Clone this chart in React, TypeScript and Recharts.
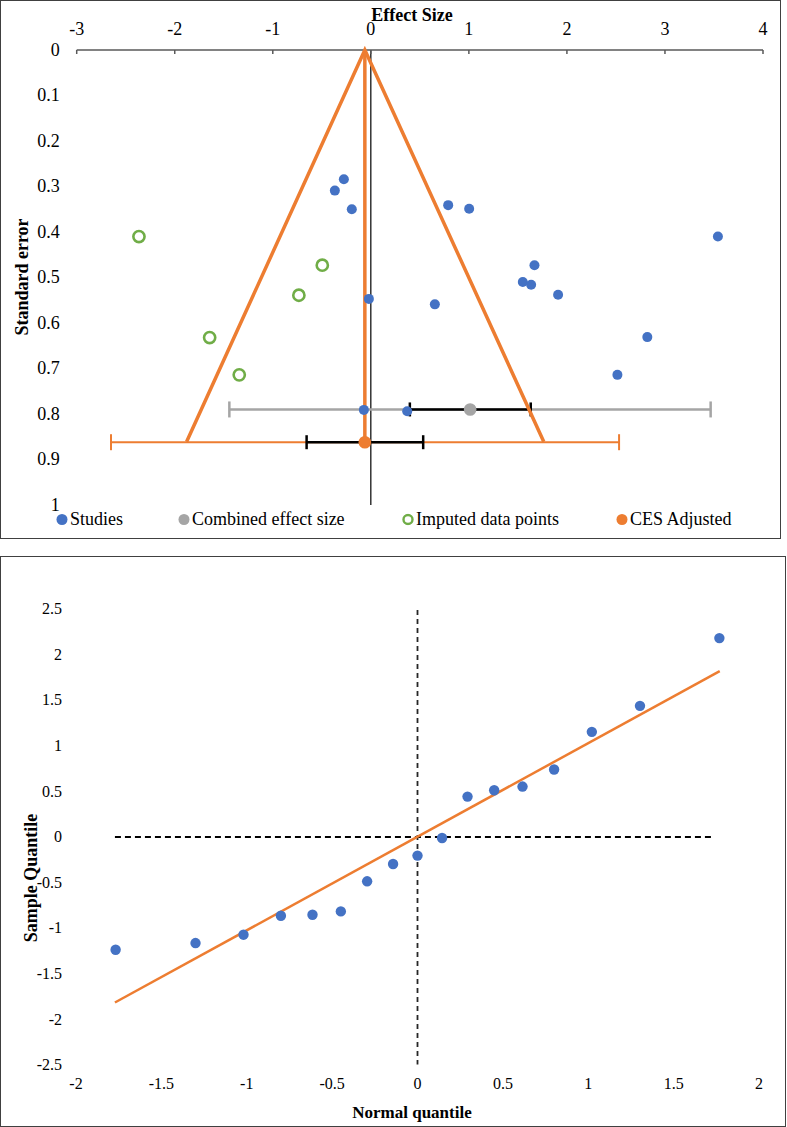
import React from "react";
import { ComposedChart, ErrorBar, ReferenceLine, Scatter, XAxis, YAxis } from "recharts";

const serif = "Liberation Serif, Times New Roman, serif";

// funnel plot
const effectTicks = [-3, -2, -1, 0, 1, 2, 3, 4];
const seTicks = [0, 0.1, 0.2, 0.3, 0.4, 0.5, 0.6, 0.7, 0.8, 0.9, 1];

const studyEffect = [-0.275, -0.367, -0.194, 0.789, 1.003, 3.54, 1.669, 1.55, 1.635, 1.91, 0.653, 2.82, 2.515, 0.371, -0.02, -0.071];
const studySE = [0.284, 0.309, 0.35, 0.341, 0.349, 0.41, 0.473, 0.51, 0.516, 0.538, 0.559, 0.631, 0.714, 0.794, 0.547, 0.791];

const imputedEffect = [-2.365, -0.495, -0.734, -1.644, -1.342];
const imputedSE = [0.41, 0.473, 0.539, 0.632, 0.714];

const combinedPoint = [1.013, 0.79];
const combinedRange = [-1.443, 3.466];
const combinedCI = [0.398, 1.631];

const adjustedPoint = [-0.061, 0.862];
const adjustedRange = [-2.65, 2.532];
const adjustedCI = [-0.655, 0.534];

const funnelEffect = [-1.879, -0.061, 1.764];
const funnelSE = [0.861, 0, 0.861];
const centreEffect = [-0.061, -0.061];
const centreSE = [0, 0.862];

// normal Q-Q plot
const qqTicksX = [-2, -1.5, -1, -0.5, 0, 0.5, 1, 1.5, 2];
const qqTicksY = [-2.5, -2, -1.5, -1, -0.5, 0, 0.5, 1, 1.5, 2, 2.5];
const normalQuantile = [-1.768, -1.3, -1.019, -0.8, -0.615, -0.449, -0.295, -0.143, 0, 0.144, 0.293, 0.449, 0.615, 0.8, 1.021, 1.303, 1.768];
const sampleQuantile = [-1.236, -1.163, -1.071, -0.863, -0.852, -0.816, -0.486, -0.296, -0.204, -0.011, 0.443, 0.513, 0.553, 0.74, 1.153, 1.438, 2.181];
const fitX = [-1.772, 1.77];
const fitY = [-1.815, 1.819];
const hDashX = [-1.772, 1.731];
const hDashY = [0, 0];
const vDashX = [0, 0];
const vDashY = [2.49, -2.495];

const pts = (xs: number[], ys: number[]) => xs.map((x, i) => ({ x, y: ys[i] }));

const studies = pts(studyEffect, studySE);
const imputed = pts(imputedEffect, imputedSE);
const combined = [{
  x: combinedPoint[0], y: combinedPoint[1],
  wide: [combinedPoint[0] - combinedRange[0], combinedRange[1] - combinedPoint[0]],
  ci: [combinedPoint[0] - combinedCI[0], combinedCI[1] - combinedPoint[0]],
}];
const adjusted = [{
  x: adjustedPoint[0], y: adjustedPoint[1],
  wide: [adjustedPoint[0] - adjustedRange[0], adjustedRange[1] - adjustedPoint[0]],
  ci: [adjustedPoint[0] - adjustedCI[0], adjustedCI[1] - adjustedPoint[0]],
}];
const funnel = pts(funnelEffect, funnelSE);
const centre = pts(centreEffect, centreSE);

const qq = pts(normalQuantile, sampleQuantile);
const fit = pts(fitX, fitY);
const hDash = pts(hDashX, hDashY);
const vDash = pts(vDashX, vDashY);

const BLUE = "#4472C4";
const ORANGE = "#ED7D31";
const GREY = "#A5A5A5";
const GREEN = "#70AD47";

const dot = (r: number, fill: string) => (p: any) => <circle cx={p.cx} cy={p.cy} r={r} fill={fill} />;
const ring = (p: any) => <circle cx={p.cx} cy={p.cy} r={5.6} fill="none" stroke={GREEN} strokeWidth={2.6} />;
const nothing = () => <g />;

// tick label drawn with explicit serif font
const tickLabel = (size: number, anchor: string, dy: string) => (p: any) => (
  <text x={p.x} y={p.y} dy={dy} textAnchor={anchor} fontFamily={serif} fontSize={size} fill="#000">
    {p.payload.value}
  </text>
);

const legendItems = [
  { label: "Studies", x: 56, kind: "dot", color: BLUE },
  { label: "Combined effect size", x: 178, kind: "dot", color: GREY },
  { label: "Imputed data points", x: 402, kind: "ring", color: GREEN },
  { label: "CES Adjusted", x: 616, kind: "dot", color: ORANGE },
];

const box: React.CSSProperties = { position: "absolute", boxSizing: "border-box", border: "1.5px solid #404040" };

export default function App() {
  return (
    <div style={{ position: "absolute", left: 0, top: 0, width: 787, height: 1127, background: "#fff", fontFamily: serif }}>
      <div style={{ ...box, left: 0, top: 0, width: 781, height: 539 }} />
      <div style={{ position: "absolute", left: 0, top: 0 }}>
        <ComposedChart width={787} height={538} margin={{ top: 20, right: 24, bottom: 33, left: 0 }}>
          <XAxis
            type="number" dataKey="x" orientation="top" domain={[-3, 4]} ticks={effectTicks} height={30}
            stroke="#595959" strokeWidth={1.5} tickSize={-4} tickMargin={19}
            tick={tickLabel(18, "middle", "0")}
          />
          <YAxis
            type="number" dataKey="y" reversed domain={[0, 1]} ticks={seTicks} width={76.7}
            axisLine={false} tickLine={false} tickSize={0} tickMargin={17}
            tick={tickLabel(18, "end", "0.33em")}
          />
          <ReferenceLine x={0} stroke="#000" strokeWidth={1.2} />
          <Scatter data={funnel} line={{ stroke: ORANGE, strokeWidth: 3.5 }} shape={nothing} isAnimationActive={false} />
          <Scatter data={centre} line={{ stroke: ORANGE, strokeWidth: 3.5 }} shape={nothing} isAnimationActive={false} />
          <Scatter data={combined} shape={dot(6.3, GREY)} isAnimationActive={false}>
            <ErrorBar dataKey="wide" direction="x" width={8} stroke={GREY} strokeWidth={2.5} isAnimationActive={false} />
            <ErrorBar dataKey="ci" direction="x" width={7} stroke="#000" strokeWidth={2.5} isAnimationActive={false} />
          </Scatter>
          <Scatter data={adjusted} shape={dot(6.3, ORANGE)} isAnimationActive={false}>
            <ErrorBar dataKey="wide" direction="x" width={8} stroke={ORANGE} strokeWidth={2} isAnimationActive={false} />
            <ErrorBar dataKey="ci" direction="x" width={7} stroke="#000" strokeWidth={2.5} isAnimationActive={false} />
          </Scatter>
          <Scatter data={imputed} shape={ring} isAnimationActive={false} />
          <Scatter data={studies} shape={dot(5, BLUE)} isAnimationActive={false} />
        </ComposedChart>
      </div>
      <div style={{ position: "absolute", left: 412, top: 15, transform: "translate(-50%, -50%)", fontWeight: "bold", fontSize: 18, whiteSpace: "nowrap" }}>
        Effect Size
      </div>
      <div style={{ position: "absolute", left: 22, top: 277, transform: "translate(-50%, -50%) rotate(-90deg)", fontWeight: "bold", fontSize: 18, whiteSpace: "nowrap" }}>
        Standard error
      </div>
      {legendItems.map((it) => (
        <div key={it.label} style={{ position: "absolute", left: it.x, top: 519, transform: "translateY(-50%)", display: "flex", alignItems: "center", fontSize: 18, whiteSpace: "nowrap" }}>
          <svg width={12} height={12} style={{ marginRight: 2 }}>
            {it.kind === "ring"
              ? <circle cx={6} cy={6} r={4.5} fill="none" stroke={it.color} strokeWidth={2.4} />
              : <circle cx={6} cy={6} r={5.5} fill={it.color} />}
          </svg>
          {it.label}
        </div>
      ))}

      <div style={{ ...box, left: 0, top: 556, width: 786, height: 571 }} />
      <div style={{ position: "absolute", left: 0, top: 556 }}>
        <ComposedChart width={787} height={570} margin={{ top: 53, right: 28, bottom: 31, left: 0 }}>
          <XAxis
            type="number" dataKey="x" domain={[-2, 2]} ticks={qqTicksX} height={30}
            axisLine={false} tickLine={false} tickSize={0} tickMargin={13}
            tick={tickLabel(16, "middle", "0.71em")}
          />
          <YAxis
            type="number" dataKey="y" domain={[-2.5, 2.5]} ticks={qqTicksY} width={76}
            axisLine={false} tickLine={false} tickSize={0} tickMargin={14}
            tick={tickLabel(16, "end", "0.33em")}
          />
          <Scatter data={hDash} line={{ stroke: "#000", strokeWidth: 2, strokeDasharray: "6 4" }} shape={nothing} isAnimationActive={false} />
          <Scatter data={vDash} line={{ stroke: "#262626", strokeWidth: 1.8, strokeDasharray: "5 4" }} shape={nothing} isAnimationActive={false} />
          <Scatter data={fit} line={{ stroke: ORANGE, strokeWidth: 2.5 }} shape={nothing} isAnimationActive={false} />
          <Scatter data={qq} shape={dot(5.2, BLUE)} isAnimationActive={false} />
        </ComposedChart>
      </div>
      <div style={{ position: "absolute", left: 412, top: 1113, transform: "translate(-50%, -50%)", fontWeight: "bold", fontSize: 17, whiteSpace: "nowrap" }}>
        Normal quantile
      </div>
      <div style={{ position: "absolute", left: 31, top: 878, transform: "translate(-50%, -50%) rotate(-90deg)", fontWeight: "bold", fontSize: 18, whiteSpace: "nowrap" }}>
        Sample Quantile
      </div>
    </div>
  );
}
